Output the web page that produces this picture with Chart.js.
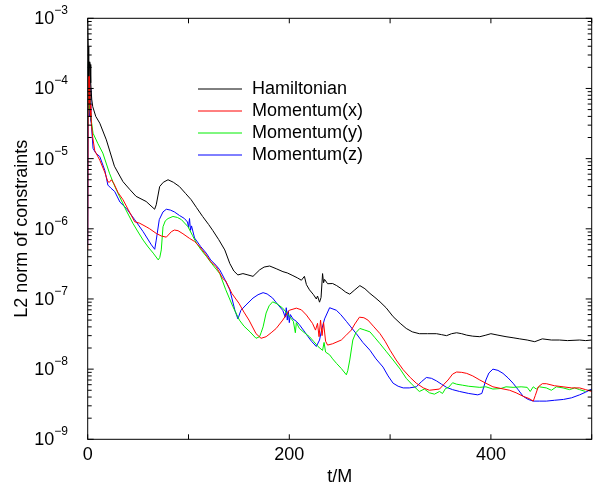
<!DOCTYPE html>
<html>
<head>
<meta charset="utf-8">
<script src="https://cdn.jsdelivr.net/npm/chart.js@4.4.1/dist/chart.umd.min.js"></script>
<style>
  html, body { margin: 0; padding: 0; background: #fff; }
</style>
</head>
<body>
<canvas id="chart" width="598" height="485"></canvas>
<script>
// Data (t/M, L2 norm)
const hamT = [0,0.5,1,2,2.5,3,4,5,8,12,18.5,26.5,35,42,48,58,66.4,68,71.4,75,79.7,85,91,97,102.6,108,114,120,124,130,136,141,145,149,154,159,164,170.6,175,180.5,187,193.7,198,203.6,208,212,215,217,220,224,226.8,228,230,231.5,233,234,235,238,243,247,251.6,256,260,265,270,275,280,285,290,296,303,310,316,322,329,337,346,351,356,361,366,371,376,382,389,395,400,407,415,422,428.6,436,443.5,451,460,468,476,488,494,500];
const hamV = [9e-4,4e-4,1.5e-4,2.4e-4,2.2e-4,1.2e-4,7e-5,5.5e-5,4e-5,3.2e-5,1.85e-5,7.8e-6,4.7e-6,3.6e-6,2.9e-6,2.45e-6,1.9e-6,2.2e-6,4e-6,4.6e-6,5e-6,4.6e-6,4e-6,3.2e-6,2.6e-6,2e-6,1.5e-6,1.15e-6,9.5e-7,7e-7,5e-7,3.2e-7,2.5e-7,2.2e-7,2.3e-7,2.2e-7,2.1e-7,2.6e-7,2.85e-7,2.95e-7,2.7e-7,2.45e-7,2.35e-7,2.15e-7,2.0e-7,1.85e-7,2.1e-7,1.6e-7,1.35e-7,1.15e-7,1.0e-7,1.1e-7,9e-8,1.05e-7,2.3e-7,1.7e-7,1.9e-7,1.65e-7,1.66e-7,1.55e-7,1.4e-7,1.25e-7,1.17e-7,1.35e-7,1.55e-7,1.4e-7,1.2e-7,1.05e-7,9.1e-8,7.5e-8,5.6e-8,4.5e-8,3.8e-8,3.4e-8,3.2e-8,3.2e-8,3.2e-8,3.1e-8,3.0e-8,3.2e-8,3.3e-8,3.2e-8,3.05e-8,2.95e-8,2.9e-8,3.05e-8,3.2e-8,3.05e-8,2.9e-8,2.8e-8,2.7e-8,2.6e-8,2.46e-8,2.7e-8,2.6e-8,2.6e-8,2.55e-8,2.6e-8,2.55e-8,2.6e-8];

const momXT = [0,0.5,1,1.5,2,2.5,3,3.6,5,7,12,16.9,20,21.5,23.5,26,30,35,40,46.6,51.6,58,61.5,68,73,78,83,86,89.6,94.5,101,106,111,117.7,122,127.4,134,137,143,150,155,160,167,172,177,182,187,193.5,200,207,212,217,223,226,228,229.5,231,232.5,234,236,238,243,251.6,256,261.5,265,269.6,274,278,284,290,295,300,306,313,320,326,333,339,349,353,357.5,362,366,371,376,382,389,395,402,410,418.6,425,432,438,442,444,447,451,455,463,471.6,480,488,494,500];
const momXV = [5e-7,1e-4,2e-4,6e-5,1.5e-4,4e-5,6e-5,3.2e-5,2e-5,1.3e-5,9.5e-6,6.4e-6,4.7e-6,4.6e-6,5e-6,4.4e-6,3.3e-6,2.6e-6,1.9e-6,1.26e-6,1.2e-6,1.07e-6,1e-6,8.6e-7,7.9e-7,7.6e-7,9.1e-7,9.6e-7,9.4e-7,8.5e-7,7.3e-7,6.6e-7,5.6e-7,4.2e-7,3.4e-7,2.9e-7,1.95e-7,1.8e-7,1.2e-7,8.7e-8,6.5e-8,5e-8,3.2e-8,2.75e-8,2.9e-8,3.3e-8,3.8e-8,5e-8,6.9e-8,7.4e-8,7e-8,5.9e-8,4.5e-8,3.6e-8,4.5e-8,2.9e-8,5e-8,3e-8,4.6e-8,2.5e-8,2.2e-8,2.3e-8,2.6e-8,3e-8,3.6e-8,4.4e-8,5.5e-8,5.4e-8,5e-8,4e-8,3.2e-8,2.5e-8,1.86e-8,1.35e-8,9.8e-9,7.6e-9,6.3e-9,5.4e-9,5e-9,5.2e-9,6e-9,7e-9,8.5e-9,9.1e-9,9e-9,8.7e-9,8e-9,7e-9,6.3e-9,5.6e-9,5.3e-9,5e-9,4.6e-9,4.1e-9,3.8e-9,3.5e-9,4.2e-9,5.6e-9,6.2e-9,6.2e-9,5.8e-9,5.6e-9,5.4e-9,5.4e-9,5.1e-9,4.8e-9];

const momYT = [0,0.5,1,1.5,2,2.5,3,5.3,10,15,21.6,26,31.5,38,44.8,50,55,60,65,70,71.5,73,74.7,77,79.7,84.6,89,93,99.5,104,108,113,118,123,128,131,137,144,150.5,155,161,167,170.5,172,174,177,180,183.5,188,193.5,200,204,206,207,210,215,220,224,228.5,233,234.5,236,240,243,247,251.6,256.6,258,260,263,266,270,275,280,285,290,296,303,310,316,322,329,334,339,344,349,352,355,358,362,366,372,378,389,395,402,410,415,422,430,436,439,442,445,448,455,460,465,471.6,478,483,488,494,500];
const momYV = [3e-5,2.4e-4,1e-4,5e-5,1e-4,4.5e-5,4e-5,2.3e-5,1.65e-5,1.2e-5,6.2e-6,4.3e-6,2.9e-6,1.85e-6,1.2e-6,9e-7,6.9e-7,5.5e-7,4.5e-7,3.6e-7,3.9e-7,5e-7,1.07e-6,1.3e-6,1.4e-6,1.5e-6,1.45e-6,1.35e-6,1.07e-6,8e-7,6.2e-7,4.9e-7,4e-7,3.2e-7,2.6e-7,2.3e-7,1.35e-7,7.8e-8,5e-8,4.1e-8,3.4e-8,2.75e-8,2.9e-8,3.3e-8,4e-8,6.3e-8,8e-8,9.1e-8,8.5e-8,7.4e-8,5.7e-8,4.8e-8,3.3e-8,4.6e-8,3.8e-8,3.3e-8,2.9e-8,2.5e-8,2.1e-8,1.85e-8,2.4e-8,1.75e-8,1.6e-8,1.4e-8,1.2e-8,1.02e-8,8.3e-9,9.5e-9,1.35e-8,2.6e-8,3.3e-8,3.8e-8,3.6e-8,3.4e-8,2.8e-8,2.3e-8,1.8e-8,1.35e-8,1e-8,7.4e-9,6e-9,4.8e-9,5.2e-9,4.6e-9,4.4e-9,4.8e-9,4.5e-9,5.3e-9,5.5e-9,6.4e-9,6.1e-9,5.9e-9,5.7e-9,5.5e-9,5.6e-9,5.2e-9,5.3e-9,5.6e-9,5.5e-9,5.6e-9,5.5e-9,4.8e-9,5.6e-9,5.2e-9,5.6e-9,5.4e-9,5e-9,5.6e-9,5.4e-9,5.1e-9,5.4e-9,5.1e-9,4.8e-9];

const momZT = [0,0.5,1,1.5,2,2.5,3,3.6,5.3,8,12,17,20,23,26.8,32,38.4,46.6,55,63.2,66.5,68,71,74.7,78,82,86,91,96,99,100,101,102,103,106,112,117.6,122,127.5,131,136,141,146,149,152,157,164,169,174,178,183.5,188,193.5,196,197,198,199,200,201,203.6,207,210,214,218.6,222,226.8,230,232,235,240,246.7,251,256.6,261,266.5,273,280,286,293,298,303,308,313,319,326,331,336,341,346,351,356,362,369,378,387,391,395,398,402,407,412,417,422,427,432,437,442,448,455,463,472,480,488,494,500];
const momZV = [6e-7,2.2e-4,5e-5,1.2e-4,4e-5,1e-4,3.5e-5,3.2e-5,1.4e-5,1.2e-5,1.07e-5,6.8e-6,4.2e-6,3.8e-6,3.4e-6,2.4e-6,1.95e-6,1.35e-6,9.1e-7,5.9e-7,5.1e-7,6.9e-7,1.35e-6,1.74e-6,1.9e-6,1.85e-6,1.74e-6,1.55e-6,1.4e-6,1.25e-6,1.05e-6,1.4e-6,9.5e-7,1.1e-6,7.4e-7,5.6e-7,4.5e-7,3.6e-7,3e-7,2.6e-7,1.9e-7,1.35e-7,6.9e-8,5.2e-8,6.9e-8,8.2e-8,1.03e-7,1.15e-7,1.23e-7,1.18e-7,1.03e-7,8.5e-8,6.9e-8,5.5e-8,7.5e-8,5e-8,6.8e-8,4.6e-8,6e-8,5.2e-8,4.8e-8,4.3e-8,3.6e-8,2.9e-8,2.5e-8,2.1e-8,2.6e-8,3.6e-8,5.2e-8,7.5e-8,6.9e-8,6e-8,4.8e-8,4e-8,3.2e-8,2.4e-8,1.86e-8,1.4e-8,1.07e-8,8e-9,6.3e-9,5.7e-9,5.4e-9,5.4e-9,5.6e-9,6.6e-9,7.6e-9,7.4e-9,6.8e-9,6.1e-9,5.5e-9,5.1e-9,4.8e-9,4.5e-9,4.3e-9,4.5e-9,7e-9,8.8e-9,1e-8,9.6e-9,8.7e-9,7.5e-9,6.3e-9,5.1e-9,4.1e-9,3.7e-9,3.5e-9,3.5e-9,3.5e-9,3.6e-9,3.7e-9,3.9e-9,4.3e-9,4.7e-9,5.2e-9];

const seriesNames = ["Hamiltonian", "Momentum(x)", "Momentum(y)", "Momentum(z)"];
const seriesColors = ["#000000", "#ff0000", "#00ee00", "#0000ff"];
const xTicks = [0, 100, 200, 300, 400, 500];
const xLabels = [0, 200, 400];
const yExponents = [-9, -8, -7, -6, -5, -4, -3];

const FONT = '"Liberation Sans", Arial, Helvetica, sans-serif';

function toPoints(ts, vs) {
  return ts.map((t, i) => ({ x: t, y: vs[i] }));
}

const allT = [hamT, momXT, momYT, momZT];
const allV = [hamV, momXV, momYV, momZV];

// gnuplot-like frame, inward ticks, labels and key
const framePlugin = {
  id: "frame",
  afterDraw(chart) {
    const { ctx, chartArea: a, scales } = chart;
    const x = scales.x, y = scales.y;
    ctx.save();
    ctx.strokeStyle = "#000";
    ctx.lineWidth = 1;
    ctx.strokeRect(a.left, a.top, a.right - a.left, a.bottom - a.top);

    // x ticks
    ctx.beginPath();
    xTicks.forEach(t => {
      const px = x.getPixelForValue(t);
      ctx.moveTo(px, a.bottom); ctx.lineTo(px, a.bottom - 5);
      ctx.moveTo(px, a.top); ctx.lineTo(px, a.top + 5);
    });
    // y ticks, major + minor
    yExponents.forEach(e => {
      const py = y.getPixelForValue(Math.pow(10, e));
      ctx.moveTo(a.left, py); ctx.lineTo(a.left + 6, py);
      ctx.moveTo(a.right, py); ctx.lineTo(a.right - 6, py);
      if (e < -3) {
        for (let m = 2; m <= 9; m++) {
          const pm = y.getPixelForValue(m * Math.pow(10, e));
          ctx.moveTo(a.left, pm); ctx.lineTo(a.left + 4, pm);
          ctx.moveTo(a.right, pm); ctx.lineTo(a.right - 4, pm);
        }
      }
    });
    ctx.stroke();

    ctx.fillStyle = "#000";
    // x labels
    ctx.font = "18px " + FONT;
    ctx.textAlign = "center";
    ctx.textBaseline = "alphabetic";
    xLabels.forEach(t => {
      ctx.fillText(String(t), x.getPixelForValue(t), a.bottom + 21);
    });
    ctx.fillText("t/M", (a.left + a.right) / 2, 482);

    // y labels 10^e
    yExponents.forEach(e => {
      const py = y.getPixelForValue(Math.pow(10, e));
      const exp = "\u2212" + Math.abs(e);
      ctx.font = "12px " + FONT;
      const w2 = ctx.measureText(exp).width;
      ctx.textAlign = "right";
      ctx.fillText(exp, 68, py - 4);
      ctx.font = "18px " + FONT;
      ctx.fillText("10", 68 - w2, py + 6);
    });

    // y title
    ctx.save();
    ctx.translate(27, (a.top + a.bottom) / 2);
    ctx.rotate(-Math.PI / 2);
    ctx.textAlign = "center";
    ctx.font = "18px " + FONT;
    ctx.fillText("L2 norm of constraints", 0, 0);
    ctx.restore();

    // key
    ctx.textAlign = "left";
    ctx.textBaseline = "middle";
    ctx.font = "18px " + FONT;
    seriesNames.forEach((name, i) => {
      const ky = 89 + i * 22;
      ctx.strokeStyle = seriesColors[i];
      ctx.beginPath();
      ctx.moveTo(198, ky); ctx.lineTo(242, ky);
      ctx.stroke();
      ctx.fillText(name, 252, ky);
    });
    ctx.restore();
  }
};

new Chart(document.getElementById("chart").getContext("2d"), {
  type: "line",
  data: {
    datasets: seriesNames.map((name, i) => ({
      label: name,
      data: toPoints(allT[i], allV[i]),
      borderColor: seriesColors[i],
      borderWidth: 1,
      pointRadius: 0,
      tension: 0,
      fill: false,
    })),
  },
  options: {
    responsive: false,
    animation: false,
    layout: { padding: { left: 87.7, right: 6.3, top: 18.3, bottom: 45.7 } },
    scales: {
      x: { type: "linear", min: 0, max: 500, display: false },
      y: { type: "logarithmic", min: 1e-9, max: 1e-3, display: false },
    },
    plugins: { legend: { display: false }, tooltip: { enabled: false } },
  },
  plugins: [framePlugin],
});
</script>
</body>
</html>
